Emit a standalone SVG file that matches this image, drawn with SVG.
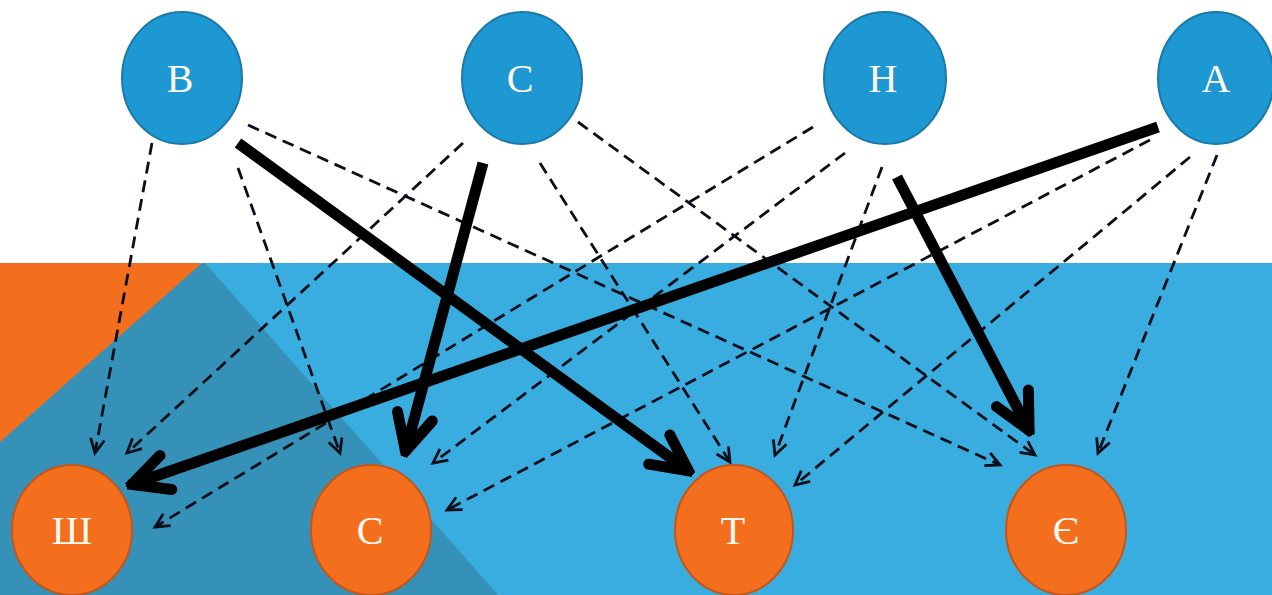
<svg xmlns="http://www.w3.org/2000/svg" width="1272" height="595" viewBox="0 0 1272 595">
<defs>
<style>
.top{fill:#1d98d3;stroke:#1b78a8;stroke-width:2}
.bot{fill:#f36f1e;stroke:#c4561a;stroke-width:2}
.lbl{font-family:"Liberation Serif","DejaVu Serif",serif;font-size:40px;fill:#fffaf0;text-anchor:middle;dominant-baseline:central}
.solid{stroke:#000;stroke-width:11;fill:none;stroke-linecap:butt;marker-end:url(#big)}
.dash{stroke:#0a0f1a;stroke-width:2.8;fill:none;stroke-dasharray:12 7;marker-end:url(#small)}
</style>
<marker id="big" markerUnits="userSpaceOnUse" viewBox="0 0 50 50" markerWidth="50" markerHeight="50" refX="46" refY="25" orient="auto">
<path d="M8,7 L44,25 L8,43" fill="none" stroke="#000" stroke-width="11" stroke-linecap="round" stroke-linejoin="miter"/>
</marker>
<marker id="small" markerUnits="userSpaceOnUse" viewBox="0 0 20 20" markerWidth="20" markerHeight="20" refX="17" refY="10" orient="auto">
<path d="M3,3 L17,10 L3,17" fill="none" stroke="#0a0f1a" stroke-width="2.8"/>
</marker>
</defs>
<rect x="0" y="0" width="1272" height="595" fill="#ffffff"/>
<g id="background">
<rect x="0" y="263" width="1272" height="332" fill="#3aade0"/>
<polygon points="0,263 205,263 498,595 0,595" fill="#3591b7"/>
<polygon points="0,263 202,263 0,442" fill="#f36f1e"/>
</g>
<g id="connectors">
<line class="dash" x1="152" y1="143" x2="95" y2="453"/>
<line class="dash" x1="238" y1="168" x2="340" y2="453"/>
<line class="dash" x1="248" y1="125" x2="1000" y2="465"/>
<line class="dash" x1="463" y1="143" x2="127" y2="453"/>
<line class="dash" x1="540" y1="163" x2="730" y2="462"/>
<line class="dash" x1="578" y1="122" x2="1035" y2="455"/>
<line class="dash" x1="813" y1="127" x2="155" y2="527"/>
<line class="dash" x1="845" y1="153" x2="433" y2="463"/>
<line class="dash" x1="882" y1="167" x2="775" y2="455"/>
<line class="dash" x1="1150" y1="140" x2="447" y2="510"/>
<line class="dash" x1="1190" y1="157" x2="795" y2="485"/>
<line class="dash" x1="1217" y1="155" x2="1098" y2="453"/>
<line class="solid" x1="238" y1="143" x2="690" y2="472"/>
<line class="solid" x1="483" y1="163" x2="405" y2="453"/>
<line class="solid" x1="897" y1="177" x2="1030" y2="432"/>
<line class="solid" x1="1158" y1="127" x2="130" y2="485"/>
</g>
<g id="node-V"><ellipse class="top" cx="182" cy="78" rx="60" ry="66"/><text class="lbl" x="180" y="78">В</text></g>
<g id="node-S"><ellipse class="top" cx="522" cy="78" rx="60" ry="66"/><text class="lbl" x="520" y="78">С</text></g>
<g id="node-N"><ellipse class="top" cx="885" cy="78" rx="61" ry="66"/><text class="lbl" x="883" y="78">Н</text></g>
<g id="node-A"><ellipse class="top" cx="1216" cy="78" rx="58" ry="66"/><text class="lbl" x="1216" y="78">А</text></g>
<g id="node-Sh"><ellipse class="bot" cx="72" cy="530" rx="60" ry="65"/><text class="lbl" x="72" y="530">Ш</text></g>
<g id="node-S2"><ellipse class="bot" cx="371" cy="530" rx="60" ry="65"/><text class="lbl" x="370" y="530">С</text></g>
<g id="node-T"><ellipse class="bot" cx="734" cy="530" rx="59" ry="65"/><text class="lbl" x="733" y="530">Т</text></g>
<g id="node-Ye"><ellipse class="bot" cx="1066" cy="530" rx="60" ry="65"/><text class="lbl" x="1066" y="530">Є</text></g>
</svg>
